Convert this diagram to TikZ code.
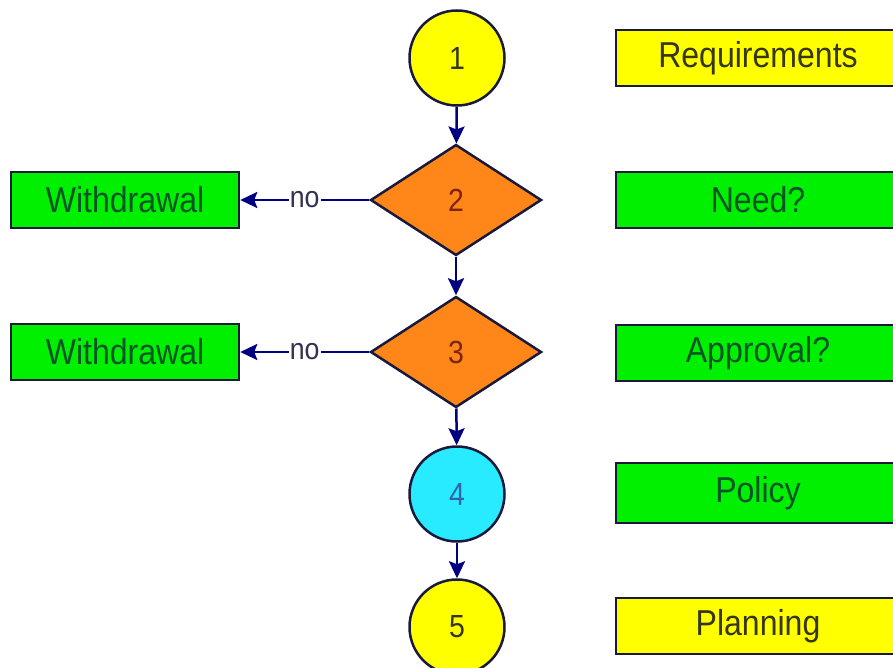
\documentclass[tikz,border=0pt]{standalone}
\usepackage{fontspec}
\setmainfont{Liberation Sans}[FakeStretch=0.89]
\usetikzlibrary{shapes.geometric,arrows.meta}
\definecolor{navy}{RGB}{0,0,128}
\definecolor{edge}{RGB}{25,25,60}
\definecolor{sun}{RGB}{255,255,0}
\definecolor{suntext}{RGB}{55,55,15}
\definecolor{grass}{RGB}{0,240,0}
\definecolor{grasstext}{RGB}{0,85,40}
\definecolor{fire}{RGB}{255,135,25}
\definecolor{firetext}{RGB}{125,35,15}
\definecolor{sky}{RGB}{40,235,255}
\definecolor{skytext}{RGB}{50,100,170}
\definecolor{notext}{RGB}{50,50,80}

\begin{document}
\begin{tikzpicture}[x=1pt, y=-1pt, >={Stealth[length=17pt,width=16pt,inset=3pt]},
        main/.style = {draw=edge, line width=2.5pt, circle, minimum size=95pt, inner sep=0pt, font=\fontsize{32}{32}\selectfont},
        ask/.style = {draw=edge, line width=2.5pt, diamond, minimum width=171pt, minimum height=111pt, inner sep=0pt, fill=fire, text=firetext, font=\fontsize{32}{32}\selectfont},
        tag/.style = {draw=edge, line width=2.5pt, rectangle, minimum height=56pt, font=\fontsize{36}{36}\selectfont},
        link/.style = {->, draw=navy, line width=2.5pt}]
        \clip (0,0) rectangle (893,668);
        \fill[white] (0,0) rectangle (893,668);

        % main column
        \node[main, fill=sun, text=suntext] (1) at (457,58) {1};
        \node[ask] (2) at (456,200) {2};
        \node[ask] (3) at (456,352) {3};
        \node[main, fill=sky, text=skytext] (4) at (457,494) {4};
        \node[main, fill=sun, text=suntext] (5) at (457,627) {5};

        % withdrawals
        \node[tag, fill=grass, text=grasstext, minimum width=228pt] (w2) at (125,200) {Withdrawal};
        \node[tag, fill=grass, text=grasstext, minimum width=228pt] (w3) at (125,352) {Withdrawal};

        % stages
        \node[tag, fill=sun, text=suntext, minimum width=284pt] (r1) at (758,58) {Requirements};
        \node[tag, fill=grass, text=grasstext, minimum width=284pt] (r2) at (758,200) {Need?};
        \node[tag, fill=grass, text=grasstext, minimum width=284pt] (r3) at (758,353) {Approval?};
        \node[tag, fill=grass, text=grasstext, minimum width=284pt, minimum height=60pt] (r4) at (758,493) {Policy};
        \node[tag, fill=sun, text=suntext, minimum width=284pt] (r5) at (758,626) {Planning};

        \draw[link] (1) -- (2);
        \draw[link] (2) -- (3);
        \draw[link] (3) -- (4);
        \draw[link] (4) -- (5);
        \draw[link] (2) -- node[fill=white, inner sep=1pt, text=notext, font=\fontsize{30}{30}\selectfont] {no} (w2);
        \draw[link] (3) -- node[fill=white, inner sep=1pt, text=notext, font=\fontsize{30}{30}\selectfont] {no} (w3);

    \end{tikzpicture}
\end{document}
